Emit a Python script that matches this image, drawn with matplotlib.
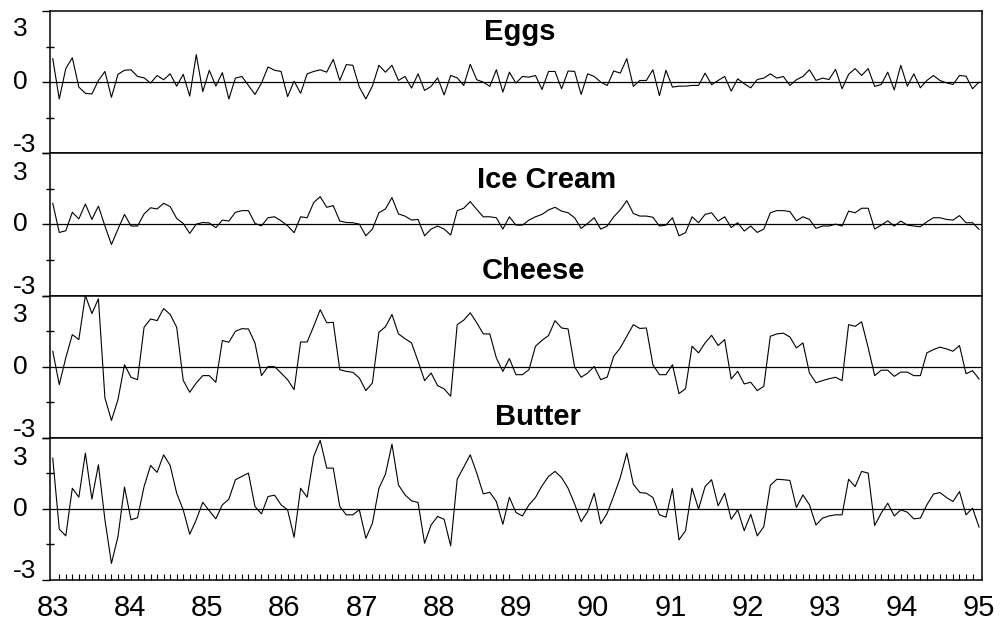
import numpy as np
import matplotlib
matplotlib.use("Agg")
import matplotlib.pyplot as plt

plt.rcParams["font.family"] = ["Liberation Sans", "DejaVu Sans"]

# ── Data (standardised monthly series) ─────────────────────────────
YEARS = ["83", "84", "85", "86", "87", "88", "89", "90", "91", "92", "93", "94", "95"]

eggs = [
    0.99, -0.71, 0.57, 1.03, -0.21, -0.47, -0.50, 0.07, 0.45, -0.64,
    0.33, 0.50, 0.52, 0.24, 0.18, -0.04, 0.28, 0.10, 0.35, -0.17,
    0.33, -0.59, 1.16, -0.40, 0.50, -0.17, 0.40, -0.71, 0.17, 0.24,
    -0.14, -0.52, -0.04, 0.64, 0.50, 0.45, -0.61, 0.04, -0.47, 0.35,
    0.45, 0.52, 0.42, 0.96, 0.07, 0.74, 0.71, -0.21, -0.71, -0.17,
    0.71, 0.42, 0.71, 0.07, 0.24, -0.25, 0.35, -0.35, -0.18, 0.18,
    -0.54, 0.28, 0.18, -0.14, 0.75, 0.10, 0.00, -0.18, 0.52, -0.42,
    0.42, -0.04, 0.24, 0.21, 0.28, -0.31, 0.45, 0.45, -0.28, 0.47,
    0.45, -0.52, 0.35, 0.24, 0.00, -0.14, 0.47, 0.38, 0.99, -0.18,
    0.07, 0.07, 0.52, -0.57, 0.50, -0.21, -0.17, -0.17, -0.14, -0.14,
    0.38, -0.11, 0.07, 0.24, -0.38, 0.14, -0.07, -0.24, 0.11, 0.17,
    0.35, 0.17, 0.24, -0.14, 0.10, 0.24, 0.52, 0.07, 0.17, 0.11,
    0.54, -0.28, 0.33, 0.57, 0.28, 0.57, -0.18, -0.10, 0.42, -0.33,
    0.71, -0.17, 0.35, -0.24, 0.07, 0.28, 0.07, -0.03, -0.10, 0.28,
    0.25, -0.28, 0.00,
]

ice_cream = [
    0.89, -0.34, -0.27, 0.51, 0.23, 0.86, 0.21, 0.77, -0.07, -0.85,
    -0.20, 0.42, -0.07, -0.07, 0.44, 0.70, 0.65, 0.89, 0.75, 0.25,
    0.04, -0.38, 0.01, 0.08, 0.06, -0.14, 0.18, 0.14, 0.51, 0.58,
    0.58, 0.04, -0.06, 0.28, 0.32, 0.15, -0.06, -0.35, 0.32, 0.28,
    0.92, 1.17, 0.72, 0.79, 0.14, 0.08, 0.07, 0.01, -0.48, -0.20,
    0.49, 0.65, 1.13, 0.44, 0.35, 0.18, 0.21, -0.48, -0.20, -0.07,
    -0.20, -0.45, 0.58, 0.68, 0.96, 0.63, 0.32, 0.32, 0.28, -0.20,
    0.32, -0.03, -0.03, 0.18, 0.32, 0.42, 0.61, 0.72, 0.56, 0.49,
    0.28, -0.17, 0.04, 0.28, -0.20, -0.07, 0.32, 0.61, 1.00, 0.46,
    0.35, 0.35, 0.30, -0.07, -0.03, 0.28, -0.48, -0.35, 0.32, 0.07,
    0.42, 0.49, 0.14, 0.32, -0.13, 0.07, -0.28, -0.07, -0.34, -0.20,
    0.49, 0.58, 0.58, 0.54, 0.15, 0.32, 0.21, -0.17, -0.07, -0.07,
    0.01, -0.07, 0.56, 0.49, 0.68, 0.68, -0.20, -0.03, 0.15, -0.07,
    0.14, -0.03, -0.07, -0.10, 0.11, 0.28, 0.28, 0.21, 0.18, 0.37,
    0.07, 0.07, -0.21,
]

cheese = [
    0.65, -0.76, 0.37, 1.35, 1.14, 3.00, 2.24, 2.86, -1.32, -2.27,
    -1.39, 0.08, -0.45, -0.55, 1.66, 2.01, 1.94, 2.45, 2.20, 1.66,
    -0.58, -1.08, -0.69, -0.38, -0.38, -0.66, 1.10, 1.03, 1.49, 1.60,
    1.59, 1.00, -0.38, 0.00, 0.00, -0.27, -0.55, -0.97, 1.04, 1.04,
    1.70, 2.40, 1.85, 1.87, -0.13, -0.20, -0.24, -0.48, -1.01, -0.69,
    1.45, 1.68, 2.20, 1.38, 1.18, 1.00, 0.23, -0.59, -0.27, -0.80,
    -0.94, -1.25, 1.77, 1.96, 2.27, 1.85, 1.38, 1.38, 0.37, -0.20,
    0.34, -0.34, -0.34, -0.13, 0.86, 1.11, 1.31, 1.94, 1.63, 1.59,
    -0.01, -0.45, -0.27, 0.01, -0.55, -0.44, 0.44, 0.79, 1.28, 1.77,
    1.61, 1.63, 0.08, -0.34, -0.34, 0.08, -1.14, -0.93, 0.86, 0.58,
    1.00, 1.32, 0.89, 1.14, -0.52, -0.20, -0.73, -0.66, -1.01, -0.83,
    1.28, 1.38, 1.41, 1.25, 0.79, 1.00, -0.27, -0.68, -0.59, -0.51,
    -0.45, -0.59, 1.77, 1.70, 1.89, 0.80, -0.38, -0.15, -0.15, -0.41,
    -0.23, -0.23, -0.38, -0.38, 0.58, 0.72, 0.82, 0.75, 0.65, 0.89,
    -0.30, -0.17, -0.52,
]

butter = [
    2.14, -0.85, -1.14, 0.87, 0.49, 2.35, 0.41, 1.86, -0.46, -2.30,
    -1.17, 0.92, -0.46, -0.37, 0.94, 1.83, 1.54, 2.28, 1.83, 0.66,
    -0.04, -1.07, -0.46, 0.28, -0.08, -0.42, 0.17, 0.41, 1.23, 1.37,
    1.51, 0.10, -0.21, 0.52, 0.58, 0.17, -0.04, -1.20, 0.87, 0.49,
    2.21, 2.89, 1.72, 1.72, 0.10, -0.25, -0.25, -0.04, -1.24, -0.61,
    0.87, 1.46, 2.73, 1.01, 0.59, 0.34, 0.27, -1.45, -0.68, -0.32,
    -0.44, -1.56, 1.25, 1.76, 2.28, 1.51, 0.63, 0.70, 0.31, -0.65,
    0.49, -0.15, -0.30, 0.17, 0.48, 0.97, 1.37, 1.58, 1.32, 0.87,
    0.21, -0.54, -0.11, 0.66, -0.63, -0.18, 0.55, 1.32, 2.35, 1.04,
    0.69, 0.66, 0.48, -0.25, -0.35, 0.85, -1.31, -0.92, 0.87, 0.00,
    0.94, 1.23, 0.13, 0.66, -0.44, -0.04, -0.92, -0.23, -1.14, -0.75,
    0.99, 1.25, 1.23, 1.20, 0.06, 0.59, 0.17, -0.68, -0.39, -0.30,
    -0.25, -0.25, 1.25, 0.94, 1.58, 1.51, -0.70, -0.18, 0.24, -0.30,
    -0.04, -0.14, -0.42, -0.39, 0.17, 0.62, 0.69, 0.48, 0.31, 0.73,
    -0.25, 0.03, -0.77,
]

SERIES = [("Eggs", eggs), ("Ice Cream", ice_cream), ("Cheese", cheese), ("Butter", butter)]

# title positions in pixels (centre x, baseline y) -- titles sit where the original put them
TITLE_POS = [(520, 40), (547, 188), (533, 279), (538, 425)]

# ── Layout (pixels) ────────────────────────────────────────────────
W, H = 1000, 624
LEFT, RIGHT, TOP, BOTTOM = 50, 982, 11, 580
PH = (BOTTOM - TOP) / 4

fig = plt.figure(figsize=(W / 100, H / 100), dpi=100)
fig.patch.set_facecolor("white")

n = len(eggs)
x = np.arange(n)

for k, (nom, valeurs) in enumerate(SERIES):
    y_top = TOP + k * PH
    premier = k == 0
    dernier = k == len(SERIES) - 1
    ax = fig.add_axes([LEFT / W, 1 - (y_top + PH) / H, (RIGHT - LEFT) / W, PH / H])
    ax.plot(x, valeurs, color="black", lw=0.8)
    ax.axhline(0, color="black", lw=0.9)
    ax.set_ylim(-3, 3)
    ax.set_xlim(-0.42, n - 1 + 0.45)

    ax.set_yticks([-3, 0, 3])
    ax.set_yticklabels([])
    ax.set_yticks([-1.5, 1.5], minor=True)
    ax.tick_params(axis="y", which="major", direction="out", length=6, width=1)
    ax.tick_params(axis="y", which="minor", direction="inout", length=6, width=1)
    for s in ax.spines.values():
        s.set_linewidth(1.1)

    if dernier:
        ax.set_xticks(np.linspace(0, n - 1, len(YEARS)))
        ax.set_xticklabels(YEARS, fontsize=21)
        ax.set_xticks(x, minor=True)
        ax.tick_params(axis="x", which="major", length=0, pad=10)
        ax.tick_params(axis="x", which="minor", direction="in", length=4.5, width=0.8)
    else:
        ax.set_xticks([])

    # y labels, left aligned like the original ("-3" of one panel butts on "3" of the next)
    haut = 18 if premier else 20
    bas = 9 if dernier else 8
    fig.text(13 / W, 1 - (y_top + haut) / H, "3", fontsize=19, ha="left", va="center")
    fig.text(13 / W, 1 - (y_top + PH / 2) / H, "0", fontsize=19, ha="left", va="center")
    fig.text(13 / W, 1 - (y_top + PH - bas) / H, "-3", fontsize=19, ha="left", va="center")

    tx, ty = TITLE_POS[k]
    fig.text(tx / W, 1 - ty / H, nom, fontsize=21, fontweight="bold",
             ha="center", va="baseline")

fig.savefig("out.png", dpi=100)
